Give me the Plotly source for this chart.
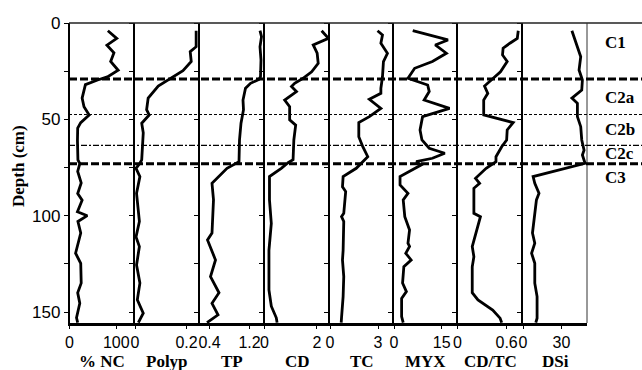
import plotly.graph_objects as go

# ---- core profiles (depth in cm, value per proxy) ----
nc_depth = [4, 8, 11.5, 15.5, 20, 24.5, 28, 29.6, 32, 39, 43.5, 47.7, 51.7, 54.6, 61, 66, 71,
            73, 77, 83, 88.5, 92, 98, 100, 103, 109, 119.5, 124.7, 135, 140, 145.5, 153, 155.5]
nc_val = [82, 101, 80, 95, 88, 104, 81, 60, 34, 27, 31, 42, 24, 17.5, 17, 17.5, 18,
          22, 17.5, 25, 17.5, 27, 17, 38, 18, 24, 13, 24, 25, 17.5, 22, 15, 17.5]

polyp_depth = [4, 12.3, 14.9, 20, 24.7, 27.9, 30.5, 32.7, 39, 45, 47.7, 52, 57, 64, 71,
               72.8, 75.4, 79.7, 88.4, 103, 111, 116, 125.6, 135, 143.7, 150.6, 155.5]
polyp_val = [0.237, 0.237, 0.214, 0.218, 0.186, 0.147, 0.115, 0.090, 0.051, 0.045, 0.055,
             0.026, 0.032, 0.030, 0.026, 0.019, 0.004, 0.019, 0.006, 0.017, 0.004, 0.017,
             0.006, 0.019, 0.009, 0.032, 0.013]

tp_depth = [4, 7.1, 12.3, 19.2, 27.9, 29.3, 31.3, 33.9, 40, 45, 52, 60.7, 72, 75.4, 83.2,
            91.8, 109, 112.6, 123, 131.6, 140, 145.5, 151.5, 155.5]
tp_val = [1.41, 1.44, 1.41, 1.43, 1.42, 1.39, 1.22, 1.12, 1.07, 1.08, 1.03, 1.00, 0.99, 0.75,
          0.45, 0.48, 0.45, 0.36, 0.52, 0.42, 0.59, 0.45, 0.57, 0.35]

cd_depth = [4, 8, 11.4, 15.7, 20.9, 25.3, 28.7, 31.3, 33, 35.6, 40, 43.4, 50.3, 53, 60.7,
            71, 72.5, 75.4, 79.7, 91.8, 104, 118, 138.5, 147, 153, 155.5]
cd_val = [2.18, 2.44, 1.86, 2.01, 2.05, 1.80, 1.47, 1.15, 1.03, 1.22, 0.77, 0.96, 0.96, 1.19,
          1.12, 1.09, 0.90, 0.64, 0.19, 0.19, 0.26, 0.17, 0.17, 0.26, 0.45, 0.48]

tc_depth = [4, 6.2, 10.5, 15.7, 20, 27.9, 33.9, 36.5, 39.6, 44.3, 48.6, 51.7, 59, 64.2, 69.4,
            72, 75.4, 79.7, 85, 87.5, 98.8, 100.5, 103, 118, 123, 131.6, 142, 153, 155.5]
tc_val = [2.97, 3.28, 3.18, 3.59, 3.34, 3.28, 3.18, 3.18, 2.46, 3.18, 2.46, 1.80, 1.80, 2.05,
          2.36, 2.05, 1.64, 0.82, 0.78, 0.98, 0.86, 0.72, 0.86, 0.82, 0.78, 0.86, 0.82, 0.72, 0.70]

myx_depth = [4, 8.8, 11.4, 15.7, 20, 23.5, 28.7, 30.5, 32.2, 35.6, 40, 44.3, 46.9, 48.6, 55.5,
             60.7, 65, 67.6, 70.2, 72, 73.7, 79.7, 84, 88.4, 91.8, 100.5, 107.4, 114.3, 116,
             119.5, 123, 126.5, 135, 139.4, 142.9, 152.4, 155.5]
myx_val = [5.9, 17.0, 13.0, 16.5, 12.1, 6.5, 4.4, 7.5, 10.6, 11.1, 9.5, 17.5, 12.1, 9.0, 8.2,
           8.8, 11.1, 16.0, 12.1, 7.0, 8.5, 1.9, 1.9, 4.4, 2.9, 3.4, 4.9, 4.4, 4.9, 3.7, 5.4,
           3.1, 2.7, 3.9, 2.4, 2.4, 2.9]

cdtc_depth = [4, 8, 10.5, 13.1, 16.6, 20, 25.3, 29.6, 32.7, 36.5, 40, 47.7, 51.7, 55.5, 60.7,
              64.2, 69.4, 72, 75.4, 80.6, 83.2, 85.8, 98.8, 100.5, 109, 116, 121.3, 126.5,
              140, 143.7, 149, 153.2, 155.5]
cdtc_val = [0.742, 0.73, 0.64, 0.557, 0.55, 0.607, 0.525, 0.415, 0.33, 0.37, 0.32, 0.32, 0.68,
            0.607, 0.60, 0.54, 0.47, 0.47, 0.35, 0.22, 0.27, 0.20, 0.20, 0.28, 0.22, 0.18,
            0.20, 0.18, 0.18, 0.25, 0.43, 0.52, 0.54]

dsi_depth = [4, 10.5, 17.5, 24.4, 29.6, 34.8, 39, 41.7, 48.6, 53.8, 60.7, 66, 68.5, 72.8,
             76.3, 79.7, 83.2, 88.4, 91.8, 100.5, 109, 114.3, 119.5, 124.7, 135, 142, 153.2, 155.5]
dsi_val = [38.2, 41.3, 45.1, 43.8, 46.4, 45.9, 38.2, 42.5, 42.5, 45.1, 45.9, 47.7, 46.4, 48.5,
           28.5, 7.9, 9.2, 12.5, 10.5, 9.2, 7.4, 9.2, 6.7, 9.2, 9.2, 11, 11, 10]

# ---- panel axis definitions ----
titles = ["% NC", "Polyp", "TP", "CD", "TC", "MYX", "CD/TC", "DSi"]
x_ranges = [[0, 140], [0, 0.25], [0.2, 1.5], [0, 2.5], [0, 4], [0, 20], [0, 0.8], [0, 50]]
x_tickvals = [[0, 100], [0, 0.2], [0.4, 1.2], [0, 2], [0, 3], [0, 15], [0, 0.6], [0, 30]]
x_ticktext = [["0", "100"], ["0", "0.2"], ["0.4", "1.2"], ["0", "2"], ["0", "3"],
              ["0", "15"], ["0", "0.6"], ["0", "30"]]

# stratigraphic unit boundaries and labels
zone_bounds = [29, 47.5, 63.5, 73]
zone_names = ["C1", "C2a", "C2b", "C2c", "C3"]
zone_label_depth = [10, 38.5, 55.5, 67.5, 80]

depth_ticks = [0, 25, 50, 75, 100, 125, 150]
depth_ticktext = ["0", "", "50", "", "100", "", "150"]

series = [(nc_depth, nc_val), (polyp_depth, polyp_val), (tp_depth, tp_val),
          (cd_depth, cd_val), (tc_depth, tc_val), (myx_depth, myx_val),
          (cdtc_depth, cdtc_val), (dsi_depth, dsi_val)]

W, H = 642, 370
ML, MR, MT, MB = 69, 0, 23, 47
PW = W - ML - MR
PH = H - MT - MB
edges_px = [69.5, 135, 199.5, 264.5, 330, 394, 457.5, 523, 587]


def px_to_paper_x(px):
    return (px - ML) / PW


def px_to_paper_y(py):
    return 1 - (py - MT) / PH


tick_font = dict(family="Liberation Sans, Arial", size=16, color="black")
ytick_font = dict(family="Liberation Sans, Arial", size=17, color="black")
serif_bold = dict(family="Liberation Serif, Times New Roman", size=17, color="black")

fig = go.Figure()
layout = dict(
    width=W, height=H,
    margin=dict(l=ML, r=MR, t=MT, b=MB),
    paper_bgcolor="white", plot_bgcolor="white",
    showlegend=False,
)

for i, (d, v) in enumerate(series):
    n = "" if i == 0 else str(i + 1)
    fig.add_trace(go.Scatter(
        x=v, y=d, mode="lines",
        line=dict(color="black", width=2.8),
        xaxis="x" + n, yaxis="y" + n, hoverinfo="skip",
    ))
    layout["xaxis" + n] = dict(
        domain=[max(0, px_to_paper_x(edges_px[i])), px_to_paper_x(edges_px[i + 1])],
        range=x_ranges[i], anchor="y" + n,
        tickvals=x_tickvals[i], ticktext=x_ticktext[i],
        ticks="outside", ticklen=3, tickwidth=1, tickcolor="black",
        showline=True, linewidth=2.5, linecolor="black",
        showgrid=False, zeroline=False, tickfont=tick_font,
    )
    layout["yaxis" + n] = dict(
        domain=[0, 1], range=[155.7, 0], anchor="x" + n,
        tickvals=depth_ticks, ticktext=depth_ticktext,
        ticks="outside", ticklen=4, tickwidth=1, tickcolor="black",
        showticklabels=(i == 0),
        showline=True, linewidth=1.5, linecolor="black",
        showgrid=False, zeroline=False, tickfont=ytick_font,
    )

shapes = []
# top frame line across panels and unit-label column
shapes.append(dict(type="line", xref="paper", yref="paper", x0=0, x1=1, y0=1, y1=1,
                   line=dict(color="#222", width=1.5)))
# right edge of the last panel
xr = px_to_paper_x(edges_px[-1])
shapes.append(dict(type="line", xref="paper", yref="paper", x0=xr, x1=xr, y0=0, y1=1,
                   line=dict(color="#333", width=1)))
bound_styles = [dict(width=3, dash="8px,3px"), dict(width=1, dash="3px,2px"),
                dict(width=1.2, dash="6px,2px,2px,2px"), dict(width=3, dash="8px,3px")]
for b, st in zip(zone_bounds, bound_styles):
    shapes.append(dict(type="line", xref="paper", yref="y", x0=0, x1=1, y0=b, y1=b,
                       line=dict(color="black", **st)))
layout["shapes"] = shapes

annotations = []
for i, t in enumerate(titles):
    cx = px_to_paper_x((edges_px[i] + edges_px[i + 1]) / 2)
    annotations.append(dict(text="<b>%s</b>" % t, x=cx, y=px_to_paper_y(361),
                            xref="paper", yref="paper", xanchor="center", yanchor="middle",
                            showarrow=False, font=serif_bold))
annotations.append(dict(text="<b>Depth (cm)</b>", x=px_to_paper_x(18), y=px_to_paper_y(166),
                        xref="paper", yref="paper", xanchor="center", yanchor="middle",
                        textangle=-90, showarrow=False, font=serif_bold))
for name, dz in zip(zone_names, zone_label_depth):
    annotations.append(dict(text="<b>%s</b>" % name, x=px_to_paper_x(603), y=dz,
                            xref="paper", yref="y", xanchor="left", yanchor="middle",
                            showarrow=False, font=serif_bold))
layout["annotations"] = annotations

fig.update_layout(**layout)
fig.write_html("out.html")
